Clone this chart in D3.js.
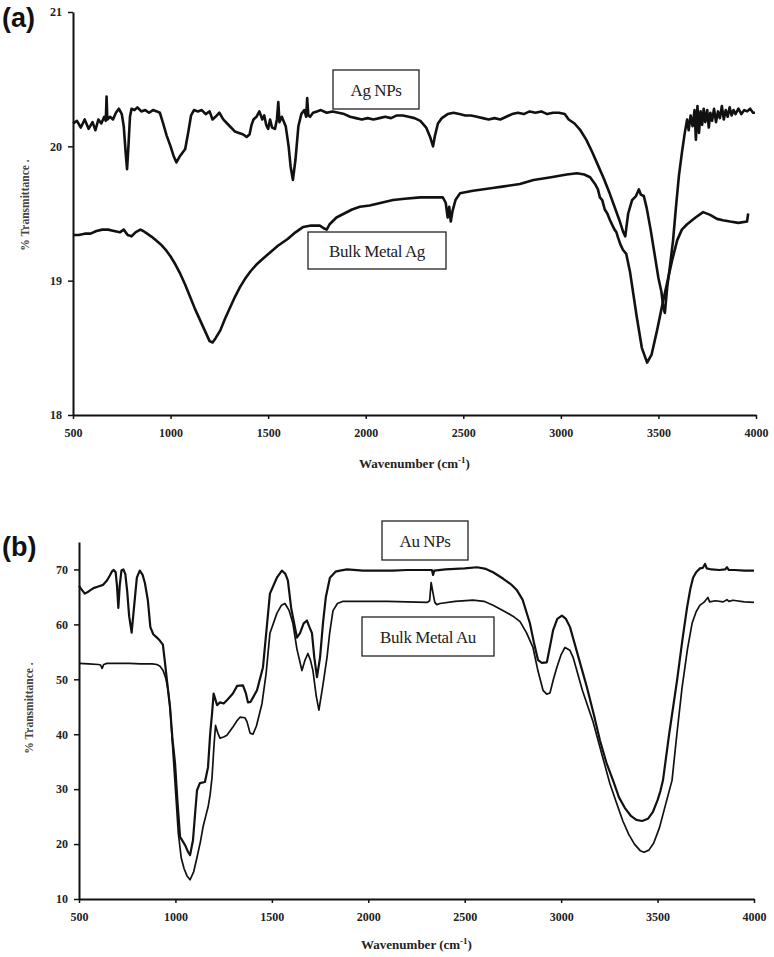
<!DOCTYPE html>
<html>
<head>
<meta charset="utf-8">
<title>FTIR spectra</title>
<script src="https://cdn.jsdelivr.net/npm/d3@7"></script>
<style>
  body { margin: 0; background: #fff; }
  svg text { font-family: "Liberation Serif", "Times New Roman", serif; }
</style>
</head>
<body>
<div id="chart"></div>
<script>
// wavenumber ticks shared by both panels
var waveTicks = [500, 1000, 1500, 2000, 2500, 3000, 3500, 4000];
var agTicks = [18, 19, 20, 21];
var auTicks = [10, 20, 30, 40, 50, 60, 70];

// (a) Ag NPs  [wavenumber, %T]
var agNPs = [[500,20.17],[520,20.19],[540,20.14],[560,20.2],[580,20.13],[600,20.18],[615,20.12],[630,20.2],[645,20.17],[660,20.22],[668,20.19],[672,20.37],[676,20.2],[690,20.22],[705,20.2],[720,20.25],[735,20.28],[750,20.24],[760,20.15],[770,19.95],[777,19.83],[784,20.0],[792,20.22],[800,20.28],[815,20.27],[830,20.29],[850,20.26],[870,20.27],[890,20.25],[910,20.27],[930,20.26],[945,20.25],[960,20.18],[980,20.08],[1000,20.0],[1015,19.93],[1030,19.88],[1045,19.92],[1060,19.95],[1075,19.98],[1090,20.1],[1105,20.23],[1120,20.27],[1140,20.26],[1160,20.27],[1180,20.24],[1200,20.26],[1215,20.2],[1230,20.22],[1250,20.25],[1270,20.2],[1290,20.17],[1310,20.14],[1330,20.11],[1350,20.1],[1370,20.09],[1390,20.07],[1405,20.09],[1415,20.16],[1425,20.2],[1440,20.22],[1455,20.26],[1470,20.2],[1480,20.23],[1490,20.16],[1500,20.13],[1510,20.2],[1520,20.14],[1535,20.13],[1545,20.2],[1552,20.33],[1558,20.18],[1570,20.22],[1590,20.15],[1605,20.0],[1615,19.85],[1627,19.75],[1640,19.9],[1655,20.15],[1670,20.24],[1685,20.27],[1695,20.22],[1700,20.36],[1706,20.23],[1715,20.22],[1730,20.25],[1750,20.26],[1770,20.27],[1800,20.25],[1830,20.26],[1860,20.25],[1890,20.24],[1920,20.22],[1950,20.21],[1980,20.2],[2010,20.21],[2040,20.2],[2070,20.21],[2100,20.22],[2130,20.21],[2160,20.23],[2190,20.23],[2220,20.22],[2250,20.21],[2280,20.19],[2310,20.14],[2330,20.07],[2345,20.0],[2355,20.08],[2370,20.17],[2390,20.21],[2420,20.24],[2450,20.25],[2480,20.24],[2510,20.23],[2540,20.23],[2570,20.22],[2600,20.21],[2630,20.2],[2660,20.21],[2690,20.2],[2720,20.22],[2750,20.24],[2780,20.25],[2810,20.24],[2840,20.26],[2870,20.25],[2900,20.26],[2930,20.24],[2960,20.25],[2990,20.25],[3020,20.24],[3040,20.2],[3070,20.17],[3100,20.12],[3130,20.05],[3160,19.96],[3190,19.86],[3220,19.76],[3250,19.65],[3275,19.55],[3300,19.45],[3320,19.36],[3330,19.33],[3345,19.5],[3365,19.6],[3385,19.63],[3400,19.68],[3410,19.64],[3425,19.63],[3440,19.54],[3460,19.38],[3480,19.2],[3500,19.02],[3515,18.92],[3525,18.8],[3533,18.76],[3545,18.95],[3560,19.12],[3575,19.3],[3590,19.55],[3605,19.78],[3620,19.95],[3635,20.1],[3647,20.2],[3655,20.12],[3665,20.23],[3675,20.15],[3685,20.27],[3692,20.05],[3700,20.3],[3708,20.1],[3716,20.26],[3724,20.16],[3732,20.28],[3740,20.18],[3750,20.27],[3758,20.14],[3766,20.25],[3775,20.19],[3785,20.28],[3795,20.18],[3805,20.26],[3815,20.21],[3825,20.3],[3835,20.2],[3845,20.27],[3855,20.22],[3865,20.29],[3875,20.23],[3885,20.27],[3895,20.24],[3910,20.28],[3925,20.24],[3940,20.27],[3955,20.26],[3970,20.28],[3985,20.25],[3995,20.25]];

// (a) Bulk metal Ag
var agBulk = [[500,19.34],[530,19.34],[560,19.35],[590,19.35],[620,19.37],[650,19.38],[680,19.38],[710,19.37],[740,19.36],[760,19.38],[780,19.34],[800,19.33],[820,19.36],[845,19.38],[860,19.37],[880,19.35],[900,19.33],[925,19.3],[950,19.27],[975,19.23],[1000,19.18],[1025,19.12],[1050,19.05],[1075,18.97],[1100,18.88],[1125,18.79],[1150,18.71],[1175,18.63],[1200,18.55],[1215,18.54],[1230,18.57],[1255,18.63],[1280,18.72],[1305,18.8],[1330,18.88],[1355,18.95],[1380,19.01],[1410,19.07],[1440,19.12],[1470,19.16],[1510,19.21],[1550,19.26],[1600,19.31],[1640,19.36],[1680,19.4],[1720,19.41],[1765,19.41],[1785,19.39],[1800,19.38],[1815,19.42],[1850,19.47],[1890,19.5],[1930,19.53],[1970,19.55],[2020,19.56],[2080,19.58],[2140,19.6],[2200,19.61],[2280,19.62],[2350,19.62],[2395,19.62],[2410,19.58],[2420,19.47],[2428,19.55],[2436,19.44],[2445,19.52],[2460,19.6],[2483,19.65],[2550,19.67],[2650,19.69],[2700,19.7],[2790,19.72],[2860,19.75],[2950,19.77],[3030,19.79],[3083,19.8],[3120,19.79],[3150,19.77],[3175,19.72],[3190,19.68],[3200,19.62],[3212,19.6],[3225,19.53],[3238,19.5],[3252,19.45],[3265,19.41],[3275,19.38],[3285,19.36],[3293,19.32],[3305,19.27],[3318,19.23],[3335,19.2],[3355,19.06],[3389,18.73],[3415,18.5],[3442,18.39],[3465,18.45],[3493,18.63],[3520,18.82],[3544,18.98],[3570,19.15],[3596,19.3],[3620,19.38],[3647,19.42],[3690,19.47],[3729,19.51],[3765,19.49],[3800,19.46],[3830,19.45],[3867,19.44],[3910,19.43],[3954,19.44],[3960,19.5]];

// (b) Au NPs
var auNPs = [[500,67.0],[510,66.5],[530,65.6],[550,66.0],[575,66.6],[600,66.9],[625,67.2],[645,68.0],[660,68.9],[672,69.7],[680,69.9],[690,69.5],[697,67],[704,63.0],[711,67],[720,69.8],[730,70.0],[740,69.2],[750,66],[760,61.5],[773,58.5],[785,63],[800,68.5],[815,69.8],[830,69.0],[842,67.5],[857,64.4],[870,59.5],[885,58.2],[904,57.6],[920,57.0],[935,56.3],[946,53],[956,49.8],[972,44.9],[985,39],[998,34.7],[1010,28],[1024,21.3],[1050,19.8],[1065,18.6],[1076,18.0],[1091,20.7],[1103,26],[1112,29.8],[1127,31.1],[1153,31.3],[1169,34],[1180,40],[1190,43.8],[1198,47.4],[1216,45.3],[1231,45.8],[1250,45.6],[1267,46.2],[1298,47.4],[1320,48.8],[1350,48.9],[1365,47.5],[1376,45.8],[1390,45.9],[1423,48.0],[1454,52.2],[1475,60],[1490,65.6],[1526,68.5],[1552,69.8],[1570,69.2],[1583,68.0],[1600,63],[1630,57.6],[1646,58.4],[1665,60.2],[1682,60.7],[1695,59.5],[1708,58.4],[1720,54],[1734,50.4],[1750,54],[1765,60.2],[1780,65],[1801,68.5],[1830,69.6],[1853,69.8],[1890,70.0],[1973,69.8],[2061,69.8],[2128,69.8],[2200,69.9],[2300,69.9],[2330,69.9],[2336,69.0],[2342,69.8],[2400,70.0],[2500,70.2],[2564,70.4],[2610,70.1],[2647,69.5],[2700,68.3],[2740,67.3],[2771,66.2],[2800,64.5],[2838,60.2],[2860,56.5],[2880,53.5],[2900,53.0],[2926,53.1],[2945,56.5],[2958,58.9],[2980,61],[3004,61.6],[3025,61],[3046,59.5],[3090,54],[3134,48.5],[3170,43.5],[3201,38.9],[3235,34.8],[3269,31.6],[3300,28.5],[3330,26.6],[3360,25.2],[3390,24.4],[3420,24.2],[3450,24.6],[3475,25.8],[3500,28],[3515,29.7],[3528,31.6],[3560,40],[3601,49.8],[3630,57.5],[3653,63.1],[3670,66.5],[3684,68.5],[3700,69.5],[3720,70.2],[3735,70.3],[3746,71.0],[3755,70.2],[3780,70.0],[3820,69.9],[3850,70.0],[3860,70.4],[3870,69.9],[3900,69.9],[3950,69.8],[4000,69.8]];

// (b) Bulk metal Au
var auBulk = [[500,52.9],[550,52.8],[600,52.7],[612,52.6],[620,52.0],[628,52.7],[645,52.9],[700,52.9],[760,52.9],[820,52.8],[880,52.8],[904,52.7],[920,52.4],[936,51.6],[950,50.2],[962,48],[972,45],[985,38],[1000,30],[1015,22],[1030,17.5],[1045,15.5],[1060,14.2],[1076,13.5],[1095,15],[1112,17.6],[1130,20.5],[1143,23.1],[1160,25.5],[1169,26.7],[1180,29],[1190,32.2],[1200,38],[1208,41.6],[1220,40.2],[1231,39.3],[1250,39.5],[1267,39.8],[1298,41.3],[1320,42.5],[1335,43.1],[1360,43.0],[1371,42.3],[1387,40.2],[1402,40.0],[1420,41.5],[1449,45.6],[1470,51],[1490,58.4],[1526,62.0],[1550,63.5],[1568,63.8],[1590,62.5],[1609,60.2],[1630,55.5],[1656,51.6],[1672,53.5],[1687,54.7],[1700,53.5],[1713,51.6],[1730,47],[1744,44.4],[1765,49],[1786,54.0],[1800,58.5],[1817,62.5],[1840,63.8],[1869,64.2],[1921,64.2],[2000,64.2],[2100,64.2],[2200,64.1],[2305,64.0],[2318,64.3],[2326,67.6],[2334,66],[2345,64],[2355,63.6],[2372,63.8],[2450,64.2],[2543,64.4],[2600,64.2],[2647,63.5],[2700,62.5],[2750,61.5],[2787,60.5],[2820,58.5],[2854,55.8],[2880,51.5],[2906,48.0],[2925,47.3],[2942,47.5],[2960,50],[2978,52.2],[3000,54.5],[3020,55.8],[3045,55.3],[3062,54.0],[3110,48],[3165,42.3],[3210,36.5],[3253,31.0],[3290,27.2],[3320,24.2],[3350,21.8],[3380,20.0],[3410,18.8],[3430,18.5],[3455,18.9],[3480,20.2],[3510,23],[3540,27],[3575,31.6],[3600,40],[3627,48.5],[3655,55.5],[3679,60.2],[3700,62.3],[3720,63.5],[3740,64.0],[3761,64.9],[3770,64.1],[3800,64.3],[3840,64.1],[3860,64.5],[3870,64.2],[3891,64.4],[3950,64.1],[4000,64.0]];

var width = 774, height = 957;
var svg = d3.select("#chart").append("svg")
  .attr("width", width)
  .attr("height", height);

function panel(opt) {
  var x = d3.scaleLinear().domain([500, 4000]).range([opt.x0, opt.x1]);
  var y = d3.scaleLinear().domain(opt.yDomain).range([opt.yBottom, opt.yTop]);
  var g = svg.append("g");

  var line = d3.line().x(function(d) { return x(d[0]); }).y(function(d) { return y(d[1]); });
  opt.series.forEach(function(s) {
    g.append("path")
      .datum(s.data)
      .attr("d", line)
      .attr("fill", "none")
      .attr("stroke", "#111")
      .attr("stroke-width", s.w)
      .attr("stroke-linejoin", "round");
  });

  // axes
  var xa = g.append("g")
    .attr("transform", "translate(0," + opt.yBottom + ")")
    .call(d3.axisBottom(x).tickValues(waveTicks).tickFormat(d3.format("d"))
      .tickSize(4).tickSizeOuter(0).tickPadding(9));
  var ya = g.append("g")
    .attr("transform", "translate(" + opt.x0 + ",0)")
    .call(d3.axisLeft(y).tickValues(opt.yTicks).tickFormat(d3.format("d"))
      .tickSize(5).tickSizeOuter(0).tickPadding(6));
  [xa, ya].forEach(function(a) {
    a.select(".domain").attr("stroke", "#111").attr("stroke-width", 2);
    a.selectAll(".tick line").attr("stroke", "#111").attr("stroke-width", 1.5);
    a.selectAll(".tick text")
      .attr("fill", "#222")
      .style("font-family", "'Liberation Serif', serif")
      .style("font-weight", "bold")
      .style("font-size", "12px");
  });

  // axis titles
  var t = g.append("text")
    .attr("x", (opt.x0 + opt.x1) / 2)
    .attr("y", opt.titleY)
    .attr("text-anchor", "middle")
    .style("font-weight", "bold")
    .style("font-size", "13px")
    .attr("fill", "#222");
  t.append("tspan").text("Wavenumber (cm");
  t.append("tspan").text("-1").attr("dy", -5).style("font-size", "9px");
  t.append("tspan").text(")").attr("dy", 5);

  g.append("text")
    .attr("transform", "translate(" + opt.yTitleX + "," + opt.yTitleY + ") rotate(-90)")
    .attr("text-anchor", "middle")
    .style("font-weight", "bold")
    .style("font-size", "11.5px")
    .attr("fill", "#444")
    .text("% Transmittance .");

  // panel letter
  g.append("text")
    .attr("x", 2).attr("y", opt.letterY)
    .style("font-family", "'Liberation Sans', Arial, sans-serif")
    .style("font-weight", "bold")
    .style("font-size", "27px")
    .attr("fill", "#111")
    .text(opt.letter);

  // labelled boxes
  opt.boxes.forEach(function(b) {
    g.append("rect")
      .attr("x", b.x).attr("y", b.y).attr("width", b.w).attr("height", b.h)
      .attr("fill", "#fff").attr("stroke", "#222").attr("stroke-width", 1.3);
    g.append("text")
      .attr("x", b.x + b.w / 2).attr("y", b.y + b.h / 2 + 6)
      .attr("text-anchor", "middle")
      .style("font-size", "17px")
      .style("letter-spacing", "-0.4px")
      .attr("fill", "#222")
      .text(b.label);
  });
}

panel({
  x0: 73, x1: 756, yBottom: 415, yTop: 12, yDomain: [18, 21], yTicks: agTicks,
  titleY: 468, yTitleX: 29, yTitleY: 205, letter: "(a)", letterY: 27,
  series: [{ data: agBulk, w: 2.6 }, { data: agNPs, w: 2.6 }],
  boxes: [
    { x: 333, y: 70, w: 86, h: 39, label: "Ag NPs" },
    { x: 308, y: 232, w: 138, h: 37, label: "Bulk Metal Ag" }
  ]
});

panel({
  x0: 79, x1: 754, yBottom: 899, yTop: 542, yDomain: [10, 75], yTicks: auTicks,
  titleY: 949, yTitleX: 33, yTitleY: 708, letter: "(b)", letterY: 556,
  series: [{ data: auNPs, w: 2.2 }, { data: auBulk, w: 1.7 }],
  boxes: [
    { x: 382, y: 521, w: 86, h: 39, label: "Au NPs" },
    { x: 362, y: 617, w: 132, h: 39, label: "Bulk Metal Au" }
  ]
});
</script>
</body>
</html>
